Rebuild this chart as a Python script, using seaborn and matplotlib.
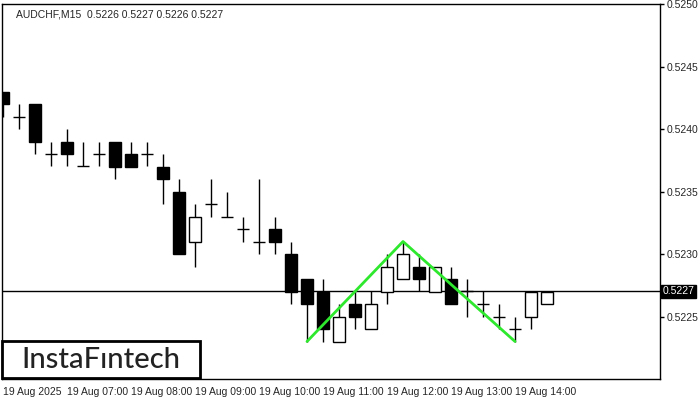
import numpy as np
import pandas as pd
import seaborn as sns
import matplotlib.pyplot as plt
from matplotlib.patches import Rectangle

# AUDCHF M15, 19 Aug 2025, 06:00 .. 14:30
opens  = [0.5243, 0.5241, 0.5242, 0.5238, 0.5239, 0.5237, 0.5238, 0.5239, 0.5238, 0.5238,
          0.5237, 0.5235, 0.5231, 0.5234, 0.5233, 0.5232, 0.5231, 0.5232, 0.5230, 0.5228,
          0.5227, 0.5223, 0.5226, 0.5224, 0.5227, 0.5228, 0.5229, 0.5227, 0.5228, 0.5227,
          0.5226, 0.5225, 0.5224, 0.5225, 0.5226]
highs  = [0.5243, 0.5242, 0.5242, 0.5239, 0.5240, 0.5239, 0.5239, 0.5239, 0.5239, 0.5239,
          0.5238, 0.5236, 0.5234, 0.5236, 0.5235, 0.5233, 0.5236, 0.5233, 0.5231, 0.5228,
          0.5228, 0.5226, 0.5227, 0.5227, 0.5230, 0.5231, 0.5230, 0.5229, 0.5229, 0.5228,
          0.5227, 0.5226, 0.5225, 0.5227, 0.5227]
lows   = [0.5241, 0.5240, 0.5238, 0.5237, 0.5237, 0.5237, 0.5237, 0.5236, 0.5237, 0.5237,
          0.5234, 0.5230, 0.5229, 0.5233, 0.5233, 0.5231, 0.5230, 0.5230, 0.5226, 0.5223,
          0.5223, 0.5223, 0.5224, 0.5224, 0.5226, 0.5228, 0.5227, 0.5227, 0.5226, 0.5225,
          0.5225, 0.5224, 0.5223, 0.5224, 0.5226]
closes = [0.5242, 0.5241, 0.5239, 0.5238, 0.5238, 0.5237, 0.5238, 0.5237, 0.5237, 0.5238,
          0.5236, 0.5230, 0.5233, 0.5234, 0.5233, 0.5232, 0.5231, 0.5231, 0.5227, 0.5226,
          0.5224, 0.5225, 0.5225, 0.5226, 0.5229, 0.5230, 0.5228, 0.5229, 0.5226, 0.5227,
          0.5226, 0.5225, 0.5224, 0.5227, 0.5227]

tick_bars = [0, 4, 8, 12, 16, 20, 24, 28, 32]
tick_labels = ["19 Aug 2025", "19 Aug 07:00", "19 Aug 08:00", "19 Aug 09:00", "19 Aug 10:00",
               "19 Aug 11:00", "19 Aug 12:00", "19 Aug 13:00", "19 Aug 14:00"]
price_ticks = [0.5225, 0.5230, 0.5235, 0.5240, 0.5245, 0.5250]

# pattern (double top) points
pat_bars = [19, 25, 32]
pat_vals = [0.5223, 0.5231, 0.5223]

last_price = 0.5227

df = pd.DataFrame({"o": opens, "h": highs, "l": lows, "c": closes})
df["i"] = np.arange(len(df))

sns.set_style("white")
plt.rcParams["font.family"] = ["Liberation Sans", "DejaVu Sans"]

fig = plt.figure(figsize=(7, 4), dpi=100)
ax = fig.add_axes([2 / 700, 21 / 400, 658 / 700, 375 / 400])

w = 0.7
for _, r in df.iterrows():
    x = r["i"]
    ax.vlines(x, r["l"], r["h"], color="black", lw=1, zorder=2)
    if abs(r["o"] - r["c"]) < 1e-9:
        ax.hlines(r["o"], x - w / 2, x + w / 2, color="black", lw=1, zorder=3)
    else:
        bottom = min(r["o"], r["c"])
        height = abs(r["o"] - r["c"])
        face = "black" if r["c"] < r["o"] else "white"
        ax.bar(x, height, bottom=bottom, width=w, color=face, edgecolor="black",
               linewidth=1, zorder=3)

ax.axhline(last_price, color="black", lw=1, zorder=1)

sns.lineplot(x=pat_bars, y=pat_vals, ax=ax, color="#2ee82e", lw=2, zorder=4)

ax.set_xlim(-0.06, 41.06)
ax.set_ylim(0.5220, 0.5250)

ax.yaxis.tick_right()
ax.set_yticks(price_ticks)
ax.set_yticklabels([f"{p:.4f}" for p in price_ticks], fontsize=7.5)
ax.set_xticks(tick_bars)
ax.set_xticklabels(tick_labels, fontsize=7.5, ha="left")
ax.tick_params(axis="both", direction="out", length=3, width=1, color="black", pad=2)
ax.tick_params(axis="x", pad=3)

for s in ax.spines.values():
    s.set_color("black")
    s.set_linewidth(1)

ax.set_xlabel("")
ax.set_ylabel("")

ax.text(0.022, 0.985, "AUDCHF,M15  0.5226 0.5227 0.5226 0.5227", transform=ax.transAxes,
        fontsize=7.5, va="top", ha="left")

# last price tag
ax.text(1.004, (last_price - 0.5220) / 0.0030, "0.5227", transform=ax.transAxes,
        fontsize=7.5, color="white", va="center", ha="left",
        bbox=dict(boxstyle="square,pad=0.15", fc="black", ec="black"))

# logo box
ax.add_patch(Rectangle((0.0, 0.003), 0.301, 0.098, transform=ax.transAxes,
                       fc="white", ec="black", lw=2, zorder=6, clip_on=False))
ax.text(0.150, 0.052, "InstaFıntech", transform=ax.transAxes, fontsize=21,
        color="#222222", va="center", ha="center", family=["Lato", "DejaVu Sans"],
        weight="medium", zorder=7)

fig.savefig("out.png", dpi=100)
